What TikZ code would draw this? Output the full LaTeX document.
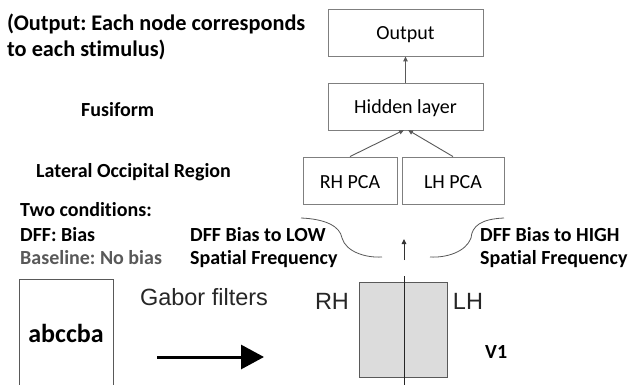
\documentclass[tikz,border=0pt]{standalone}
\usepackage{fontspec}
\setmainfont{Carlito}[Ligatures=NoCommon]
\newfontfamily\arialf{Liberation Sans}
\usetikzlibrary{arrows.meta}
\definecolor{boxgray}{HTML}{7F7F7F}
\definecolor{arrgray}{HTML}{595959}
\definecolor{txtgray}{HTML}{595959}
\definecolor{vfill}{HTML}{DCDCDC}
\frenchspacing
\begin{document}
\frenchspacing
\begin{tikzpicture}[x=1pt,y=-1pt,
  lbl/.style={anchor=base west,inner sep=0pt,font=\bfseries\fontsize{20}{20}\selectfont},
  biglbl/.style={anchor=base west,inner sep=0pt,font=\bfseries\fontsize{22.3}{22.3}\selectfont},
  netbox/.style={draw=boxgray,line width=0.9pt,minimum height=47pt,inner sep=0pt,text height=15pt,text depth=0pt,font=\fontsize{20}{20}\selectfont},
  netarrow/.style={draw=arrgray,line width=0.9pt,-{Triangle[length=5pt,width=4.5pt]}},
  curve/.style={draw=arrgray,line width=0.8pt},
  sans/.style={inner sep=0pt,anchor=base,font=\arialf\fontsize{23.5}{23.5}\selectfont,text=black!85}
]
\clip (0,0) rectangle (629,385);
\fill[white] (0,0) rectangle (629,385);

% left texts
\node[biglbl] (t1) at (7,31) {(Output: Each node corresponds};
\node[biglbl] (t2) at (7,57) {to each stimulus)};
\node[lbl] (fus) at (81,117) {Fusiform};
\node[lbl] (lor) at (36,177) {Lateral Occipital Region};
\node[lbl] (two) at (20,216) {Two conditions:};
\node[lbl] (dff) at (20,241) {DFF: Bias};
\node[lbl,text=txtgray] (base) at (20,264) {Baseline: No bias};
\node[lbl] (low1) at (190,241) {DFF Bias to LOW};
\node[lbl] (low2) at (190,264) {Spatial Frequency};
\node[lbl] (high1) at (480,241) {DFF Bias to HIGH};
\node[lbl] (high2) at (480,264) {Spatial Frequency};

% network boxes
\node[netbox,minimum width=155pt] (out) at (405.5,32.5) {Output};
\node[netbox,minimum width=155pt] (hid) at (405.5,106.5) {Hidden layer};
\node[netbox,minimum width=94pt] (rh) at (350,180.5) {RH PCA};
\node[netbox,minimum width=102pt] (lh) at (453,180.5) {LH PCA};
\coordinate (hidL) at (404,130);
\coordinate (hidR) at (408,130);
\draw[netarrow] (hid.north) -- (out.south);
\draw[netarrow] (rh.north) -- (hidL);
\draw[netarrow] (lh.north) -- (hidR);

% curves
\coordinate (cl1) at (301,218);
\coordinate (cl2) at (342,238);
\coordinate (cl3) at (382,257);
\coordinate (cr1) at (504,218);
\coordinate (cr2) at (471,238);
\coordinate (cr3) at (430,257);
\draw[curve] (cl1) .. controls (325,219) and (340,226) .. (cl2) .. controls (346,252) and (366,258) .. (cl3);
\draw[curve] (cr1) .. controls (481,219) and (472,226) .. (cr2) .. controls (466,252) and (446,258) .. (cr3);
\coordinate (sa1) at (404,260);
\coordinate (sa2) at (404,239);
\draw[netarrow,draw=black!80] (sa1) -- (sa2);

% V1
\node[draw=arrgray,fill=vfill,line width=0.9pt,minimum width=88pt,minimum height=95pt,inner sep=0pt] (v1) at (403,329.5) {};
\coordinate (vtop) at (404,276);
\coordinate (vbot) at (404,390);
\draw[black!85,line width=0.9pt] (vtop) -- (vbot);
\node[sans] (rhl) at (332,309) {RH};
\node[sans] (lhl) at (468,309) {LH};
\node[lbl] (v1l) at (485,358) {V1};

% stimulus
\node[draw=arrgray,line width=0.9pt,minimum width=94pt,minimum height=120pt,inner sep=0pt] (stim) at (66,339) {};
\node[inner sep=0pt,anchor=base,font=\bfseries\fontsize{26}{26}\selectfont] (abc) at (66,342) {abccba};
\node[sans] (gab) at (204,305) {Gabor filters};
\coordinate (ga1) at (157,357);
\coordinate (ga2) at (264,357);
\draw[line width=3pt,-{Triangle[length=23pt,width=24pt]}] (ga1) -- (ga2);
\end{tikzpicture}
\end{document}
